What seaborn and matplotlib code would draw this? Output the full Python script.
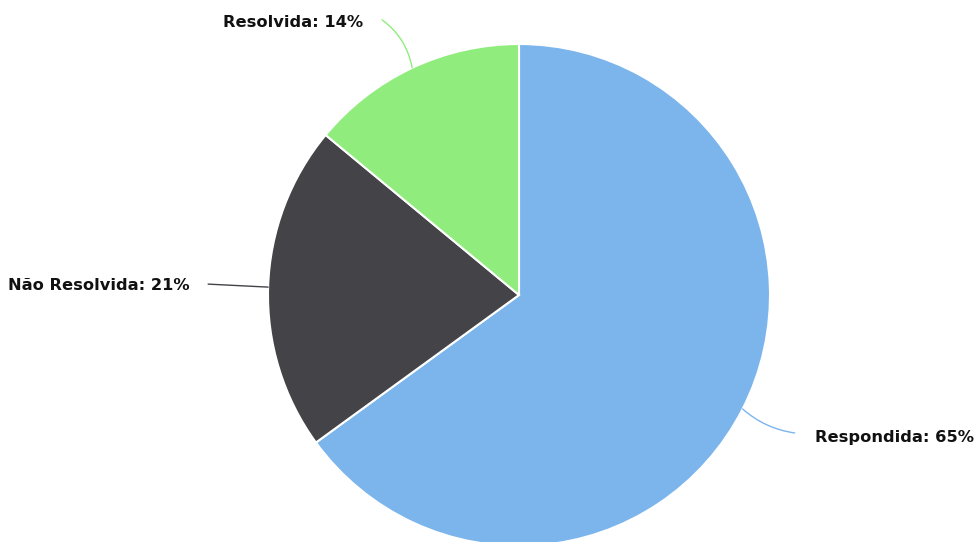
import numpy as np
import matplotlib
matplotlib.use("Agg")
import matplotlib.pyplot as plt
import seaborn as sns

# dados do gráfico
labels = ["Respondida", "Não Resolvida", "Resolvida"]
values = [65, 21, 14]
colors = ["#7cb5ec", "#434348", "#90ed7d"]

W, H = 979, 542
cx, cy, r = 519, H - 295, 251

sns.set_theme(style="white")
plt.rcParams['font.family'] = ['DejaVu Sans']

fig = plt.figure(figsize=(W / 100, H / 100), dpi=100)
ax = fig.add_axes([0, 0, 1, 1])
wedges, _ = ax.pie(values, colors=sns.color_palette(colors), startangle=90, counterclock=False,
                   center=(cx, cy), radius=r, frame=True,
                   wedgeprops=dict(edgecolor="white", linewidth=1.5))
ax.set_xlim(0, W)
ax.set_ylim(0, H)
ax.set_aspect("equal")
ax.axis("off")

# posição dos rótulos: (dx, dy) do fim da linha, (dx, dy) do texto, alinhamento, curvatura
label_layout = {
    "Respondida": ((52, -24), (72, -29), "left", -0.15),
    "Não Resolvida": ((-60, 3), (-78, 2), "right", 0.0),
    "Resolvida": ((-30, 48), (-49, 45), "right", -0.2),
}

for w, lab, val in zip(wedges, labels, values):
    ang = np.deg2rad((w.theta1 + w.theta2) / 2)
    ex, ey = cx + r * np.cos(ang), cy + r * np.sin(ang)
    (lx, ly), (tx, ty), ha, rad = label_layout[lab]
    ax.annotate("", xy=(ex, ey), xytext=(ex + lx, ey + ly),
                arrowprops=dict(arrowstyle="-", color=w.get_facecolor(), lw=1,
                                shrinkA=0, shrinkB=0,
                                connectionstyle=f"arc3,rad={rad}"))
    ax.text(ex + tx, ey + ty, f"{lab}: {val}%", ha=ha, va="center",
            fontsize=11.7, fontweight="bold", color="#111111")

fig.savefig("out.png", dpi=100)
